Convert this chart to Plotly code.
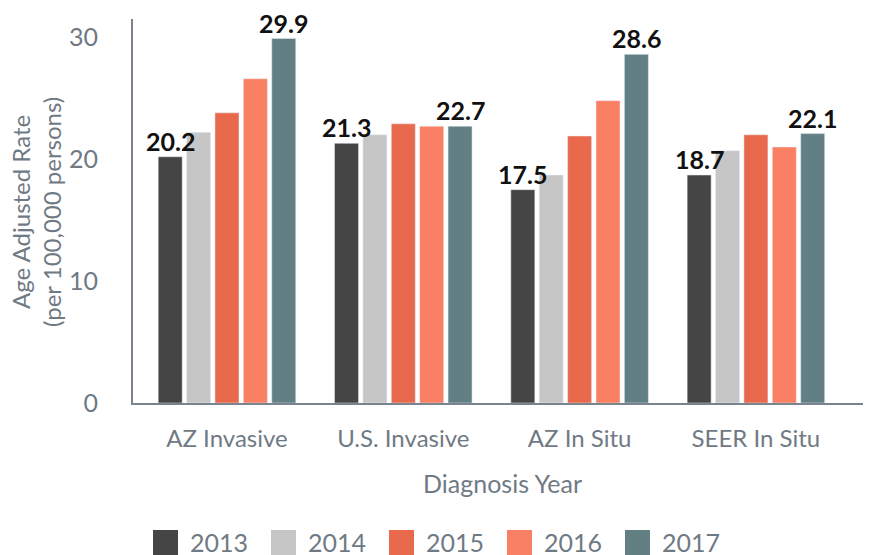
import plotly.graph_objects as go

categories = ["AZ Invasive", "U.S. Invasive", "AZ In Situ", "SEER In Situ"]
years = ["2013", "2014", "2015", "2016", "2017"]
values_2013 = [20.2, 21.3, 17.5, 18.7]
values_2014 = [22.2, 22.0, 18.7, 20.7]
values_2015 = [23.8, 22.9, 21.9, 22.0]
values_2016 = [26.6, 22.7, 24.8, 21.0]
values_2017 = [29.9, 22.7, 28.6, 22.1]
series = [values_2013, values_2014, values_2015, values_2016, values_2017]
colors = ["#454545", "#c6c6c6", "#e8694b", "#f98063", "#628083"]
labeled_years = ["2013", "2017"]
y_ticks = [0, 10, 20, 30]

# page body has an 8px margin; lay out in reference pixel coordinates
OFF = 8
W, H = 871 - OFF, 555 - OFF
PLOT_L, PLOT_R, PLOT_T, PLOT_B = 133, 870, 19, 403  # reference pixels
ML = PLOT_L - OFF
MR = W - (PLOT_R - OFF)
MT = PLOT_T - OFF
MB = H - (PLOT_B - OFF)
PW, PH = W - ML - MR, H - MT - MB

def px_x(px):
    return (px - OFF - ML) / PW

def px_y(py):
    return (H - MB - (py - OFF)) / PH

TEXT_GRAY = "#6f7a84"
AXIS_GRAY = "#7b848e"
BARGAP = 0.195
BARGROUPGAP = 0.155

fig = go.Figure()
for yr, vals, col in zip(years, series, colors):
    fig.add_trace(go.Bar(
        x=categories, y=vals, name=yr, marker_color=col,
        showlegend=False, hoverinfo="x+y+name",
    ))

annotations = []
# value labels above the first and last year bars (drawn on top of all bars)
slot = (1 - BARGAP) / len(years)
for i, (yr, vals) in enumerate(zip(years, series)):
    if yr not in labeled_years:
        continue
    for c, v in enumerate(vals):
        annotations.append(dict(
            text=f"<b>{v:.1f}</b>", xref="x", yref="y",
            x=c + (i - (len(years) - 1) / 2) * slot, y=v,
            xanchor="center", yanchor="bottom", yshift=-1, showarrow=False,
            font=dict(family="Lato", size=25, color="#111111"),
        ))

# custom legend
leg_x0 = 153
leg_pitch = 118
shapes = []
for i, (yr, col) in enumerate(zip(years, colors)):
    x0 = leg_x0 + i * leg_pitch
    shapes.append(dict(type="rect", xref="paper", yref="paper",
                       x0=px_x(x0), x1=px_x(x0 + 25), y0=px_y(530), y1=px_y(556),
                       fillcolor=col, line=dict(width=0)))
    annotations.append(dict(text=yr, xref="paper", yref="paper", x=px_x(x0 + 35),
                            y=px_y(542), xanchor="left", yanchor="middle", showarrow=False,
                            font=dict(family="Lato", size=25, color=TEXT_GRAY)))

annotations.append(dict(text="Diagnosis Year", xref="paper", yref="paper",
                        x=px_x(502), y=px_y(483), xanchor="center", yanchor="middle",
                        showarrow=False, font=dict(family="Lato", size=25, color=TEXT_GRAY)))
annotations.append(dict(text="Age Adjusted Rate<br>(per 100,000 persons)", xref="paper",
                        yref="paper", x=px_x(36), y=px_y(212), xanchor="center", yanchor="middle",
                        textangle=-90, showarrow=False,
                        font=dict(family="Lato", size=24, color=TEXT_GRAY)))

fig.update_layout(
    width=W, height=H,
    margin=dict(l=ML, r=MR, t=MT, b=MB, autoexpand=False),
    paper_bgcolor="white", plot_bgcolor="white",
    barmode="group", bargap=BARGAP, bargroupgap=BARGROUPGAP,
    showlegend=False,
    shapes=shapes, annotations=annotations,
    font=dict(family="Lato", color=TEXT_GRAY),
)
fig.update_xaxes(
    type="category", range=[-0.533, 3.647],
    showline=True, linecolor=AXIS_GRAY, linewidth=2,
    showgrid=False, ticks="", ticklabelstandoff=13,
    tickfont=dict(family="Lato", size=24, color=TEXT_GRAY),
)
fig.update_yaxes(
    range=[0, 31.5], tickvals=y_ticks,
    showline=True, linecolor=AXIS_GRAY, linewidth=2,
    showgrid=False, zeroline=False, ticks="", ticklabelstandoff=28,
    tickfont=dict(family="Lato", size=25, color=TEXT_GRAY),
)

fig.write_html("out.html")
